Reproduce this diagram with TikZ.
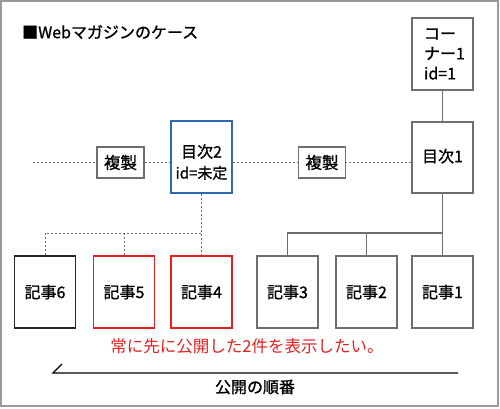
\documentclass[tikz,border=0pt]{standalone}
\usepackage{fontspec}
\setmainfont{Noto Sans CJK JP}[FakeBold=1.1]
\newfontfamily\plainjp{Noto Sans CJK JP}
\definecolor{boxgray}{HTML}{6E6E6E}
\definecolor{framegray}{HTML}{9A9A9A}
\definecolor{myred}{HTML}{E3201F}
\definecolor{myblue}{HTML}{2E67B2}
\begin{document}
\begin{tikzpicture}[x=1pt,y=-1pt,
  box/.style={draw=boxgray,line width=1.3pt,fill=white,minimum width=61pt,minimum height=72pt,inner sep=0pt,font=\fontsize{16}{20}\selectfont,align=center},
  copybox/.style={draw=boxgray,line width=1.3pt,fill=white,minimum width=47pt,minimum height=31pt,inner sep=0pt,font=\fontsize{16.5}{20}\selectfont},
  dotline/.style={draw=boxgray,line width=0.8pt,dash pattern=on 2pt off 2pt},
  solidline/.style={draw=boxgray,line width=1.2pt}]
\useasboundingbox (0,0) rectangle (500,408);
\draw[framegray,line width=2pt] (1,1) rectangle (498,406);
\node[anchor=west,font=\fontsize{16}{18}\selectfont,inner sep=0pt] (title) at (22,32) {■Webマガジンのケース};
% dotted horizontal line
\coordinate (dstart) at (33,162);
\node[box,minimum height=71pt] (m1) at (442.5,157.5) {\raisebox{4pt}{目次1}};
\draw[dotline] (dstart) -- (m1.west |- dstart);
\node[copybox] (c1) at (120.5,162.5) {複製};
\node[copybox] (c2) at (322,162.5) {複製};
\node[box,draw=myblue,minimum height=72pt] (m2) at (201.5,157) {};
\node[font=\fontsize{16}{21}\selectfont,align=center,inner sep=0pt] (m2t) at (201.5,162) {目次2\\\fontsize{15}{21}\selectfont id=未定};
% corner
\node[box,align=left,text width=37pt,inner xsep=12pt] (corner) at (442.5,54) {コー\\ナー1\\id=1};
\draw[solidline] (corner.south) -- (m1.north);
% articles
\node[box,draw=black!85] (a6) at (45,292) {記事6};
\node[box,draw=myred] (a5) at (124,292) {記事5};
\node[box,draw=myred] (a4) at (201.5,292) {記事4};
\node[box] (a3) at (287.5,292) {記事3};
\node[box] (a2) at (366.5,292) {記事2};
\node[box] (a1) at (442.5,292) {記事1};
% dotted tree
\coordinate (dj) at (201.5,233);
\draw[dotline] (m2.south) -- (a4.north);
\draw[dotline] (a6.north) -- (a6.north |- dj) -- (dj);
\draw[dotline] (a5.north) -- (a5.north |- dj);
% solid tree
\coordinate (sj) at (442.5,233);
\draw[solidline] (m1.south) -- (a1.north);
\draw[solidline] (a3.north) -- (a3.north |- sj) -- (sj);
\draw[solidline] (a2.north) -- (a2.north |- sj);
% red note
\node[text=myred,font=\plainjp\fontsize{16.5}{20}\selectfont,inner sep=0pt] (note) at (247,346) {常に先に公開した2件を表示したい。};
% order line
\coordinate (t0) at (62,364);
\coordinate (t1) at (53,373);
\coordinate (t2) at (458,373);
\draw[black,line width=1.3pt] (t0) -- (t1) -- (t2);
\node[font=\fontsize{16}{18}\selectfont,inner sep=0pt] (order) at (255,387) {公開の順番};
\end{tikzpicture}
\end{document}
